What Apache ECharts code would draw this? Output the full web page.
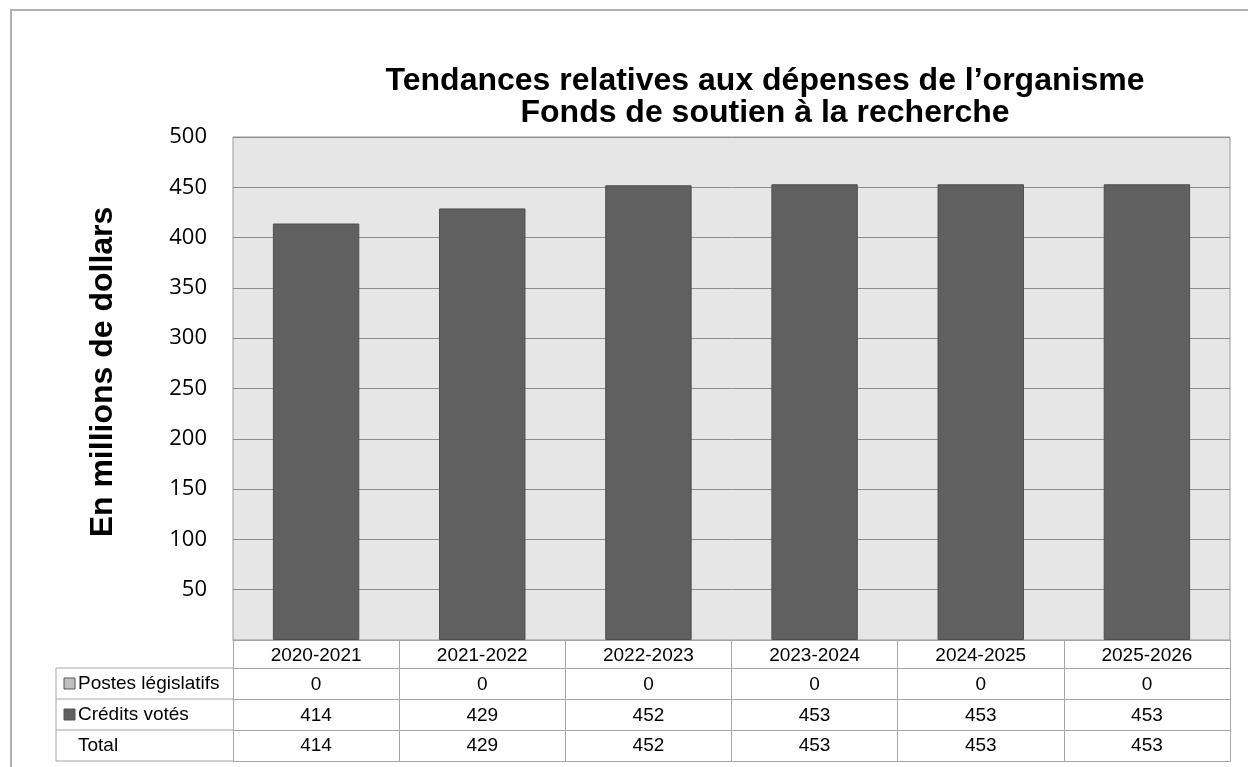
<!DOCTYPE html>
<html>
<head>
<meta charset="utf-8">
<script src="https://cdn.jsdelivr.net/npm/echarts@6/dist/echarts.min.js"></script>
<style>
  html, body { margin: 0; padding: 0; background: #fff; }
  #chart { width: 1248px; height: 767px; }
</style>
</head>
<body>
<div id="chart"></div>
<script>
const categories = ['2020-2021', '2021-2022', '2022-2023', '2023-2024', '2024-2025', '2025-2026'];
const postesLegislatifs = [0, 0, 0, 0, 0, 0];
const creditsVotes = [414, 429, 452, 453, 453, 453];
const total = [414, 429, 452, 453, 453, 453];
const yTicks = { min: 0, max: 500, interval: 50 };

const rowLabels = ['Postes législatifs', 'Crédits votés', 'Total'];
const rowColors = ['#c0c0c0', '#606060', null];

const lineColor = '#a6a6a6';
const tableFont = 'Liberation Sans, Arial, sans-serif';

// un axe par ligne du tableau de données
function tableAxis(data, offset, tickLen, showLabel, margin) {
    return {
        type: 'category',
        gridIndex: 0,
        position: 'bottom',
        offset: offset,
        data: data,
        axisLine: { show: true, lineStyle: { color: lineColor, width: 1 } },
        axisTick: { show: tickLen > 0, interval: 0, length: tickLen, lineStyle: { color: lineColor } },
        axisLabel: {
            show: showLabel,
            interval: 0,
            margin: margin,
            color: '#000',
            fontSize: 19,
            lineHeight: 20,
            fontFamily: tableFont
        },
        splitLine: { show: false }
    };
}

const myChart = echarts.init(document.getElementById('chart'));

const rowTop = [668, 699, 730];
const graphic = [
    {
        type: 'polyline',
        shape: { points: [[11, 767], [11, 10], [1248, 10]] },
        style: { stroke: '#b0b0b0', lineWidth: 2, fill: null }
    },
    {
        type: 'text', x: 765, y: 65,
        style: {
            text: 'Tendances relatives aux dépenses de l’organisme\nFonds de soutien à la recherche',
            font: 'bold 32px Liberation Sans, Arial, sans-serif',
            fill: '#000', align: 'center', verticalAlign: 'top', lineHeight: 32
        }
    },
    {
        type: 'text', x: 103, y: 372, rotation: Math.PI / 2,
        style: {
            text: 'En millions de dollars',
            font: 'bold 32px Liberation Sans, Arial, sans-serif',
            fill: '#000', align: 'center', verticalAlign: 'middle'
        }
    },
    {
        type: 'polyline',
        shape: { points: [[233, 668], [56, 668], [56, 761], [233, 761]] },
        style: { stroke: lineColor, lineWidth: 1, fill: null }
    }
];
rowLabels.forEach((label, i) => {
    const cy = rowTop[i] + 16;
    if (i > 0) {
        graphic.push({
            type: 'line',
            shape: { x1: 56, y1: rowTop[i], x2: 233, y2: rowTop[i] },
            style: { stroke: lineColor, lineWidth: 1 }
        });
    }
    if (rowColors[i]) {
        graphic.push({
            type: 'rect',
            shape: { x: 64, y: cy - 6, width: 11, height: 11 },
            style: { fill: rowColors[i], stroke: '#555', lineWidth: 1 }
        });
    }
    graphic.push({
        type: 'text', x: 78, y: cy,
        style: {
            text: label, font: '19px ' + tableFont, fill: '#000',
            align: 'left', verticalAlign: 'middle'
        }
    });
});

const option = {
    animation: false,
    backgroundColor: '#fff',
    grid: {
        left: 233, right: 18, top: 137, bottom: 127,
        show: true,
        backgroundColor: '#e6e6e6',
        borderColor: '#999',
        borderWidth: 1
    },
    xAxis: [
        tableAxis(categories, 0, 28, true, 6),
        tableAxis(postesLegislatifs, 28, 31, true, 7),
        tableAxis(creditsVotes, 59, 31, true, 7),
        tableAxis(total, 90, 31, true, 6),
        tableAxis(categories, 121, 0, false, 0)
    ],
    yAxis: {
        type: 'value',
        min: yTicks.min,
        max: yTicks.max,
        interval: yTicks.interval,
        axisLine: { show: false },
        axisTick: { show: false },
        axisLabel: {
            margin: 26,
            fontSize: 22,
            fontFamily: 'Open Sans, sans-serif',
            color: '#000',
            formatter: v => (v === 0 ? '' : v)
        },
        splitLine: { lineStyle: { color: '#8c8c8c', width: 1 } }
    },
    series: [
        {
            name: 'Crédits votés',
            type: 'bar',
            stack: 'total',
            xAxisIndex: 0,
            data: creditsVotes,
            barWidth: '52%',
            itemStyle: { color: '#606060', borderColor: '#4e4e4e', borderWidth: 1 }
        },
        {
            name: 'Postes législatifs',
            type: 'bar',
            stack: 'total',
            xAxisIndex: 0,
            data: postesLegislatifs,
            barWidth: '52%',
            itemStyle: { color: '#c0c0c0' }
        }
    ],
    graphic: graphic
};

myChart.setOption(option);
</script>
</body>
</html>
